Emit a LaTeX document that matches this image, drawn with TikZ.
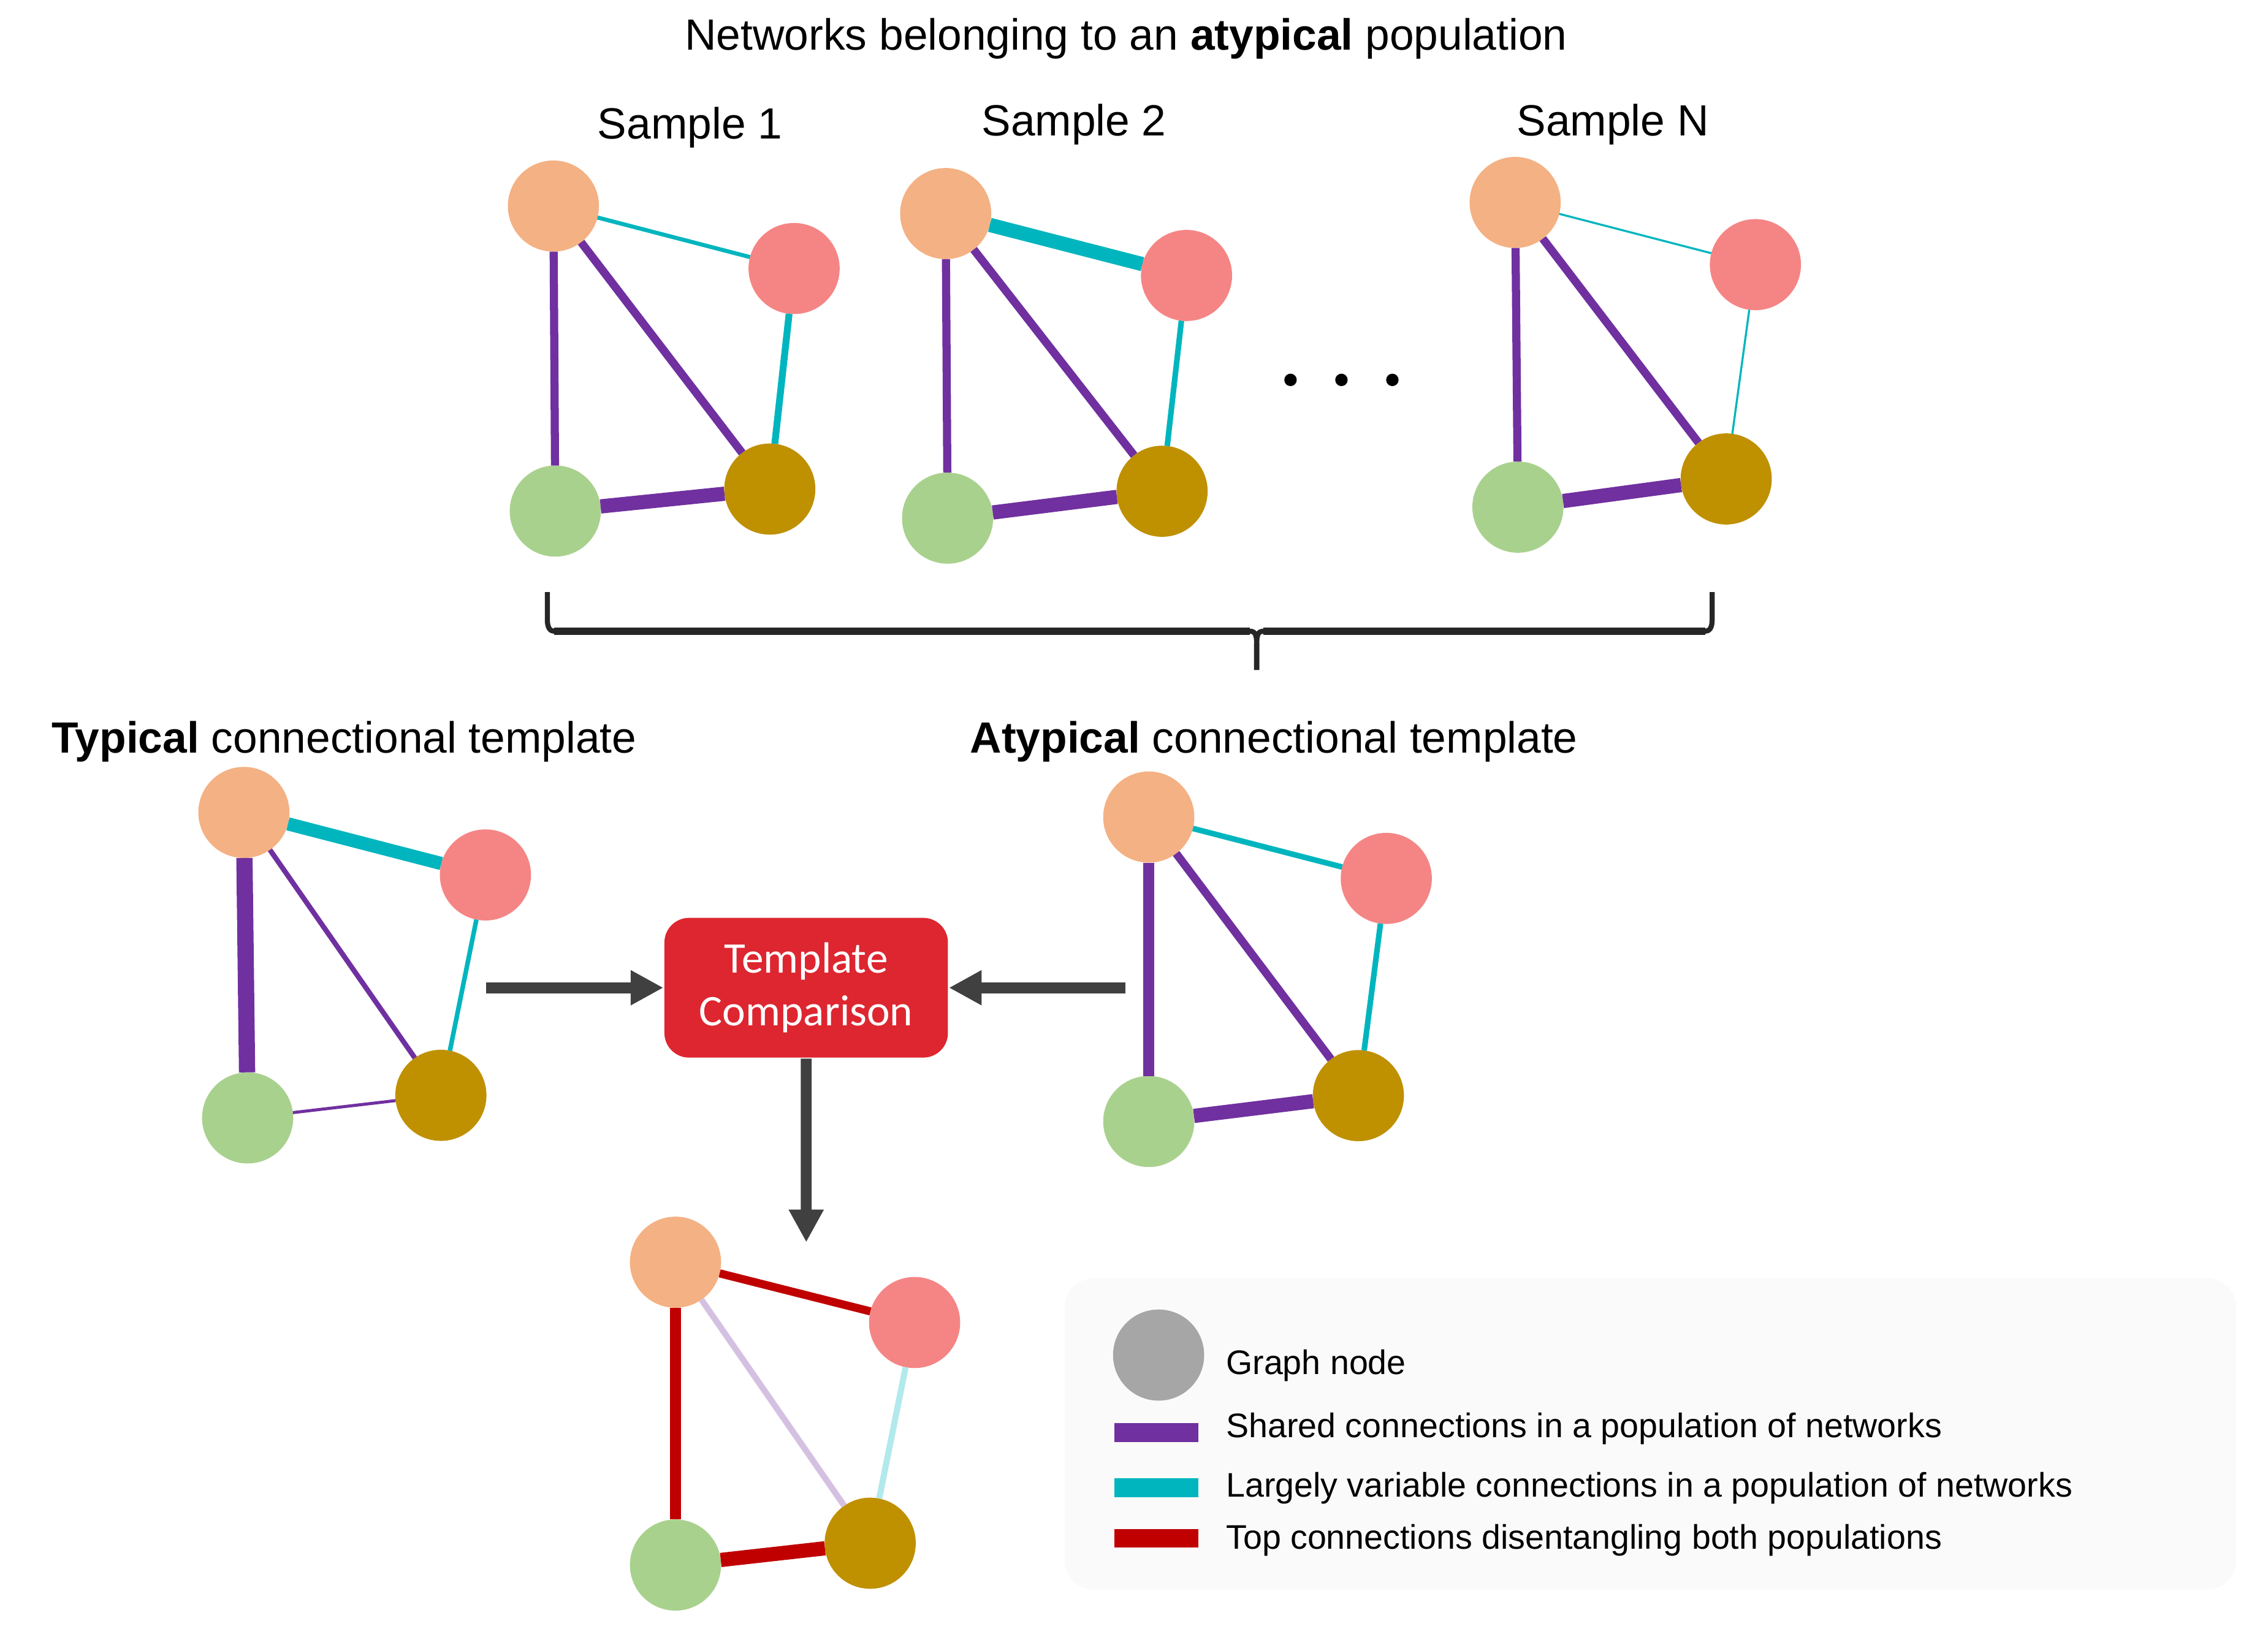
\documentclass[tikz,border=0pt]{standalone}
\usepackage{fontspec}
\setmainfont{Liberation Sans}
\newfontfamily\boxfont{Carlito}
\usetikzlibrary{arrows.meta}
\definecolor{coloror}{HTML}{F4B183}
\definecolor{colorpk}{HTML}{F58585}
\definecolor{colorgr}{HTML}{A9D18E}
\definecolor{colorgd}{HTML}{BF9000}
\definecolor{colorsh}{HTML}{7030A0}
\definecolor{colorvr}{HTML}{00B5BE}
\definecolor{colortp}{HTML}{C00000}
\definecolor{colorbx}{HTML}{DD2630}
\definecolor{colorar}{HTML}{404040}
\definecolor{colorbr}{HTML}{262626}
\definecolor{colorlg}{HTML}{FAFAFA}
\definecolor{colorgy}{HTML}{A6A6A6}
\newcommand\lblsize{\fontsize{8.6}{10.3}\selectfont}
\newcommand\lgsize{\fontsize{6.7}{8}\selectfont}
\tikzset{
  netnode/.style={circle, inner sep=0pt, outer sep=0pt, minimum size=6.3mm},
  nodeor/.style={netnode, fill=coloror},
  nodepk/.style={netnode, fill=colorpk},
  nodegr/.style={netnode, fill=colorgr},
  nodegd/.style={netnode, fill=colorgd},
  nodegy/.style={netnode, fill=colorgy},
  edgesh/.style={colorsh},
  edgevr/.style={colorvr},
  edgetp/.style={colortp},
  edgesh-lt/.style={colorsh!30},
  edgevr-lt/.style={colorvr!30},
  edgecmp/.style={colorar, line width=2.15pt, -{Triangle[length=2.26mm,width=2.27mm]}},
  braceline/.style={colorbr, line width=1pt},
  lbl/.style={font=\lblsize, inner sep=0pt},
  lgtxt/.style={font=\lgsize, inner sep=0pt, anchor=base west},
  swatch/.style={inner sep=0pt, minimum width=5.8mm, minimum height=1.3mm},
  cmpbox/.style={fill=colorbx, text=white, rounded corners=1.7mm, minimum width=1.96cm,
    minimum height=0.966cm, inner sep=0pt, align=center, font=\boxfont\lblsize}
}

\begin{document}
\begin{tikzpicture}
\useasboundingbox (0,0) rectangle (15.68,11.26);

\node[lbl, anchor=base] (title) at (7.785,10.914) {Networks belonging to an \textbf{atypical} population};
\node[lbl, anchor=base] (lbls1) at (4.77,10.30) {Sample 1};
\node[lbl, anchor=base] (lbls2) at (7.425,10.32) {Sample 2};
\node[lbl, anchor=base] (lblsn) at (11.15,10.32) {Sample N};

% sample 1
\node[nodeor] (s1or) at (3.826,9.835) {};
\node[nodepk] (s1pk) at (5.490,9.403) {};
\node[nodegr] (s1gr) at (3.839,7.726) {};
\node[nodegd] (s1gd) at (5.322,7.878) {};
\draw[edgevr, line width=0.8pt] (s1or) -- (s1pk);
\draw[edgesh, line width=1.6pt] (s1or) -- (s1gr);
\draw[edgesh, line width=1.6pt] (s1or) -- (s1gd);
\draw[edgesh, line width=2.8pt] (s1gr) -- (s1gd);
\draw[edgevr, line width=1.35pt] (s1pk) -- (s1gd);

% sample 2
\node[nodeor] (s2or) at (6.538,9.783) {};
\node[nodepk] (s2pk) at (8.203,9.355) {};
\node[nodegr] (s2gr) at (6.551,7.677) {};
\node[nodegd] (s2gd) at (8.034,7.863) {};
\draw[edgevr, line width=2.8pt] (s2or) -- (s2pk);
\draw[edgesh, line width=1.6pt] (s2or) -- (s2gr);
\draw[edgesh, line width=1.6pt] (s2or) -- (s2gd);
\draw[edgesh, line width=2.8pt] (s2gr) -- (s2gd);
\draw[edgevr, line width=1.1pt] (s2pk) -- (s2gd);

\foreach \x in {8.922,9.274,9.626}
  \fill (\x,8.633) circle (0.043);

% sample N
\node[nodeor] (snor) at (10.475,9.86) {};
\node[nodepk] (snpk) at (12.136,9.43) {};
\node[nodegr] (sngr) at (10.494,7.753) {};
\node[nodegd] (sngd) at (11.934,7.948) {};
\draw[edgevr, line width=0.4pt] (snor) -- (snpk);
\draw[edgesh, line width=1.6pt] (snor) -- (sngr);
\draw[edgesh, line width=1.6pt] (snor) -- (sngd);
\draw[edgesh, line width=2.8pt] (sngr) -- (sngd);
\draw[edgevr, line width=0.4pt] (snpk) -- (sngd);

% brace
\coordinate (brl) at (3.784,7.166);
\coordinate (brr) at (11.837,7.166);
\coordinate (brtip) at (8.688,6.627);
\draw[braceline] (brl) -- ++(0,-0.19) .. controls ++(0,-0.06) and ++(-0.03,0) .. (3.834,6.895)
  -- (8.64,6.895) .. controls ++(0.04,0) and ++(0,0.07) .. (8.688,6.80) -- (brtip);
\draw[braceline] (brr) -- ++(0,-0.19) .. controls ++(0,-0.06) and ++(0.03,0) .. (11.787,6.895)
  -- (8.736,6.895) .. controls ++(-0.04,0) and ++(0,0.07) .. (8.688,6.80) -- (brtip);
\draw[colorbr, line width=1.4pt] (3.83,6.895) -- (8.64,6.895) (8.736,6.895) -- (11.79,6.895);

\node[lbl, anchor=base west] (lblty) at (0.351,6.054) {\textbf{Typical} connectional template};
\node[lbl, anchor=base west] (lblat) at (6.70,6.054) {\textbf{Atypical} connectional template};

% typical template
\node[nodeor] (tyor) at (1.686,5.642) {};
\node[nodepk] (typk) at (3.356,5.21) {};
\node[nodegr] (tygr) at (1.712,3.53) {};
\node[nodegd] (tygd) at (3.048,3.686) {};
\draw[edgevr, line width=2.6pt] (tyor) -- (typk);
\draw[edgesh, line width=3.2pt] (tyor) -- (tygr);
\draw[edgesh, line width=1pt] (tyor) -- (tygd);
\draw[edgesh, line width=0.6pt] (tygr) -- (tygd);
\draw[edgevr, line width=0.9pt] (typk) -- (tygd);

% atypical template
\node[nodeor] (ator) at (7.942,5.61) {};
\node[nodepk] (atpk) at (9.584,5.186) {};
\node[nodegr] (atgr) at (7.942,3.505) {};
\node[nodegd] (atgd) at (9.391,3.684) {};
\draw[edgevr, line width=1.1pt] (ator) -- (atpk);
\draw[edgesh, line width=2.15pt] (ator) -- (atgr);
\draw[edgesh, line width=1.6pt] (ator) -- (atgd);
\draw[edgesh, line width=2.8pt] (atgr) -- (atgd);
\draw[edgevr, line width=1.1pt] (atpk) -- (atgd);

\node[cmpbox] (cmp) at (5.5735,4.43) {Template\\Comparison};
\coordinate (tyarr) at (3.36,4.43);
\coordinate (atarr) at (7.78,4.43);
\coordinate (resarr) at (5.574,2.67);
\draw[edgecmp] (tyarr) -- (cmp.west);
\draw[edgecmp] (atarr) -- (cmp.east);
\draw[edgecmp] (cmp.south) -- (resarr);

% result
\node[nodeor] (rsor) at (4.67,2.532) {};
\node[nodepk] (rspk) at (6.323,2.115) {};
\node[nodegr] (rsgr) at (4.67,0.438) {};
\node[nodegd] (rsgd) at (6.016,0.589) {};
\draw[edgetp, line width=1.6pt] (rsor) -- (rspk);
\draw[edgetp, line width=2.15pt] (rsor) -- (rsgr);
\draw[edgesh-lt, line width=1.2pt] (rsor) -- (rsgd);
\draw[edgetp, line width=2.8pt] (rsgr) -- (rsgd);
\draw[edgevr-lt, line width=1.2pt] (rspk) -- (rsgd);

% legend
\node[fill=colorlg, rounded corners=2mm, minimum width=8.1cm, minimum height=2.15cm,
  inner sep=0pt] (legend) at (11.41,1.345) {};
\node[nodegy] (lgnode) at (8.01,1.89) {};
\node[swatch, fill=colorsh] (lgsh) at (7.996,1.355) {};
\node[swatch, fill=colorvr] (lgvr) at (7.996,0.972) {};
\node[swatch, fill=colortp] (lgtp) at (7.996,0.6225) {};
\node[lgtxt] (lgtxtnode) at (8.47,1.758) {Graph node};
\node[lgtxt] (lgtxtsh) at (8.47,1.32) {Shared connections in a population of networks};
\node[lgtxt] (lgtxtvr) at (8.47,0.907) {Largely variable connections in a population of networks};
\node[lgtxt] (lgtxttp) at (8.47,0.547) {Top connections disentangling both populations};
\end{tikzpicture}
\end{document}
